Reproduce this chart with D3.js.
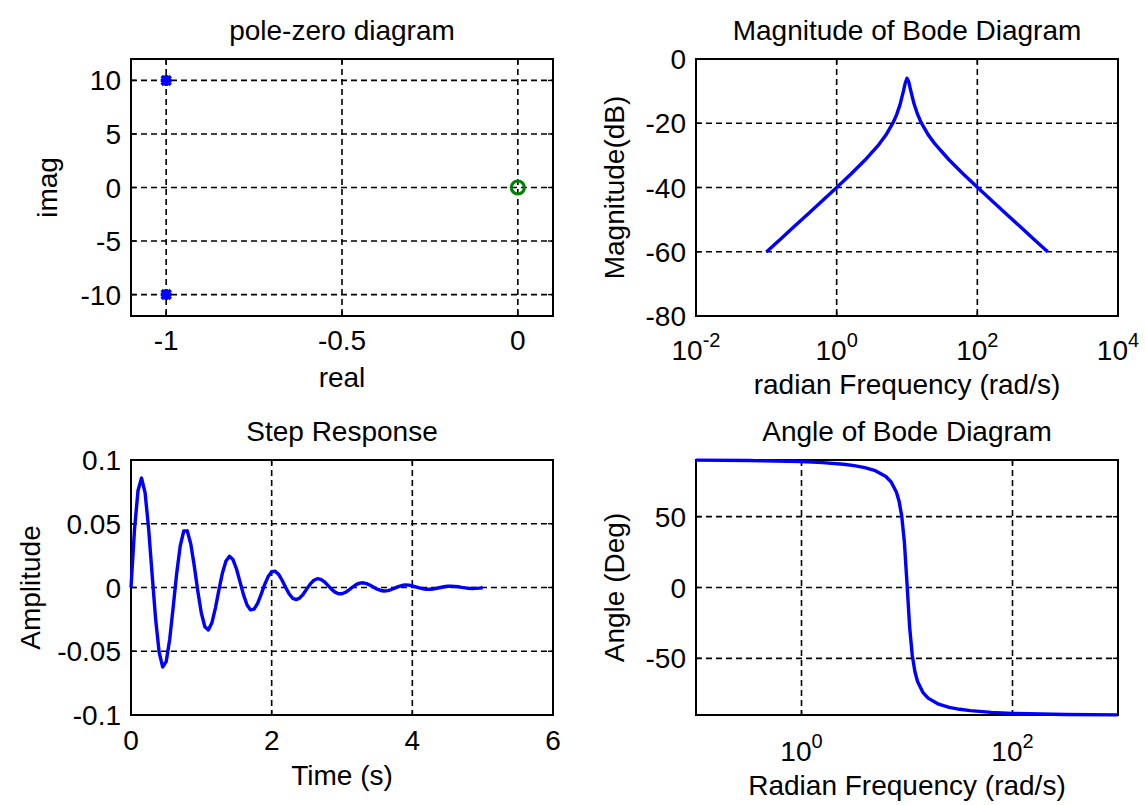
<!DOCTYPE html>
<html>
<head>
<meta charset="utf-8">
<script src="https://cdn.jsdelivr.net/npm/d3@7"></script>
<style>
  html, body { margin: 0; padding: 0; background: #ffffff; }
  svg { display: block; }
</style>
</head>
<body>
<svg id="chart" width="1145" height="805"></svg>
<script>
// ---------------- data ----------------
// pole-zero diagram
const poleReal = [-1, -1];
const poleImag = [10, -10];
const zeroReal = [0];
const zeroImag = [0];
const pzXTicks = [-1, -0.5, 0];
const pzYTicks = [-10, -5, 0, 5, 10];

// magnitude of Bode diagram
const magFreq = [0.1, 0.1585, 0.2512, 0.3981, 0.631, 1, 1.585, 2.512, 3.981, 5.012,
  6.31, 7.079, 7.943, 8.913, 9.441, 10, 10.59, 11.22, 12.59, 14.13,
  15.85, 19.95, 25.12, 39.81, 63.1, 100, 158.5, 251.2, 398.1, 631, 1000];
const magDb = [-60.09, -56.08, -52.08, -48.07, -44.05, -40.00, -35.87, -31.54, -26.64, -23.68,
  -19.91, -17.46, -14.28, -9.94, -7.47, -6.03, -7.09, -9.50, -13.95, -17.21,
  -19.72, -23.54, -26.52, -31.44, -35.78, -39.91, -43.97, -47.99, -51.99, -56.00, -60.00];
const magXTicks = [0.01, 1, 100, 10000];
const magXTickExp = ["-2", "0", "2", "4"];
const magYTicks = [0, -20, -40, -60, -80];

// step response
const stepTime = [0, 0.05, 0.1, 0.15, 0.2, 0.25, 0.3, 0.35, 0.4, 0.45, 0.5, 0.55, 0.6, 0.65, 0.7, 0.75, 0.8, 0.85, 0.9, 0.95,
  1, 1.05, 1.1, 1.15, 1.2, 1.25, 1.3, 1.35, 1.4, 1.45, 1.5, 1.55, 1.6, 1.65, 1.7, 1.75, 1.8, 1.85, 1.9, 1.95,
  2, 2.05, 2.1, 2.15, 2.2, 2.25, 2.3, 2.35, 2.4, 2.45, 2.5, 2.55, 2.6, 2.65, 2.7, 2.75, 2.8, 2.85, 2.9, 2.95,
  3, 3.05, 3.1, 3.15, 3.2, 3.25, 3.3, 3.35, 3.4, 3.45, 3.5, 3.55, 3.6, 3.65, 3.7, 3.75, 3.8, 3.85, 3.9, 3.95,
  4, 4.05, 4.1, 4.15, 4.2, 4.25, 4.3, 4.35, 4.4, 4.45, 4.5, 4.55, 4.6, 4.65, 4.7, 4.75, 4.8, 4.85, 4.9, 4.95, 5];
const stepAmp = [0, 0.04560, 0.07614, 0.08586, 0.07445, 0.04661, 0.01045, -0.02472, -0.05073, -0.06233,
  -0.05816, -0.04071, -0.01533, 0.01123, 0.03263, 0.04431, 0.04445, 0.03413, 0.01676, -0.00291,
  -0.02001, -0.03078, -0.03329, -0.02773, -0.01616, -0.00190, 0.01145, 0.02084, 0.02443, 0.02193,
  0.01451, 0.00438, -0.00581, -0.01369, -0.01756, -0.01697, -0.01241, -0.00532, 0.00224, 0.00858,
  0.01236, 0.01283, 0.01025, 0.00549, -0.00010, -0.00513, -0.00848, -0.00952, -0.00822, -0.00510,
  -0.00109, 0.00280, 0.00566, 0.00692, 0.00643, 0.00447, 0.00165, -0.00129, -0.00365, -0.00493,
  -0.00492, -0.00376, -0.00182, 0.00036, 0.00225, 0.00343, 0.00369, 0.00306, 0.00177, 0.00018,
  -0.00129, -0.00232, -0.00271, -0.00242, -0.00159, -0.00047, 0.00066, 0.00153, 0.00195, 0.00187,
  0.00136, 0.00058, -0.00026, -0.00097, -0.00137, -0.00142, -0.00113, -0.00060, 0.00002, 0.00058,
  0.00095, 0.00106, 0.00091, 0.00056, 0.00011, -0.00032, -0.00063, -0.00077, -0.00071, -0.00049, -0.00018];
const stepXTicks = [0, 2, 4, 6];
const stepYTicks = [-0.1, -0.05, 0, 0.05, 0.1];

// angle of Bode diagram
const phaseFreq = [0.1, 0.3162, 1, 1.585, 2.512, 3.162, 3.981, 5.012, 6.31, 7.079,
  7.943, 8.414, 8.913, 9.441, 10, 10.59, 11.22, 11.89, 12.59, 14.13,
  15.85, 19.95, 25.12, 31.62, 39.81, 63.1, 100, 316.2, 1000];
const phaseDeg = [89.89, 89.64, 88.85, 88.16, 86.96, 86.02, 84.66, 82.47, 78.35, 74.45,
  67.27, 60.88, 50.42, 32.17, 2.86, -27.87, -47.97, -59.44, -66.35, -74.00,
  -78.08, -82.35, -84.59, -85.98, -86.93, -88.14, -88.84, -89.64, -89.89];
const phaseXTicks = [1, 100];
const phaseXTickExp = ["0", "2"];
const phaseYTicks = [-50, 0, 50];

// ---------------- drawing ----------------
const FONT = "'Liberation Sans', Arial, Helvetica, sans-serif";
const FS = 28;
const LINE_W = 3.4;
const svg = d3.select("#chart");

function panel(o) {
  const g = svg.append("g");
  const x = o.x, y = o.y;
  const [X0, X1] = x.range();
  const [Y1, Y0] = y.range();
  // grid
  g.selectAll(".gx").data(o.xTicks).join("line")
    .attr("x1", d => x(d)).attr("x2", d => x(d)).attr("y1", Y0).attr("y2", Y1)
    .attr("stroke", "#000").attr("stroke-width", 1.6).attr("stroke-dasharray", "6,4");
  g.selectAll(".gy").data(o.yTicks).join("line")
    .attr("y1", d => y(d)).attr("y2", d => y(d)).attr("x1", X0).attr("x2", X1)
    .attr("stroke", "#000").attr("stroke-width", 1.6).attr("stroke-dasharray", "6,4");
  // box
  g.append("rect").attr("x", X0).attr("y", Y0).attr("width", X1 - X0).attr("height", Y1 - Y0)
    .attr("fill", "none").attr("stroke", "#000").attr("stroke-width", 2);
  // ticks (inward, all four sides)
  const TL = 5;
  o.xTicks.forEach(d => {
    g.append("line").attr("x1", x(d)).attr("x2", x(d)).attr("y1", Y1).attr("y2", Y1 - TL).attr("stroke", "#000").attr("stroke-width", 1.4);
    g.append("line").attr("x1", x(d)).attr("x2", x(d)).attr("y1", Y0).attr("y2", Y0 + TL).attr("stroke", "#000").attr("stroke-width", 1.4);
  });
  o.yTicks.forEach(d => {
    g.append("line").attr("y1", y(d)).attr("y2", y(d)).attr("x1", X0).attr("x2", X0 + TL).attr("stroke", "#000").attr("stroke-width", 1.4);
    g.append("line").attr("y1", y(d)).attr("y2", y(d)).attr("x1", X1).attr("x2", X1 - TL).attr("stroke", "#000").attr("stroke-width", 1.4);
  });
  // y tick labels
  g.selectAll(".yl").data(o.yTicks).join("text")
    .attr("x", X0 - 10).attr("y", d => y(d)).attr("dy", "0.36em")
    .attr("text-anchor", "end").attr("font-family", FONT).attr("font-size", FS)
    .text(d => String(d));
  // x tick labels
  if (o.xExp) {
    o.xTicks.forEach((d, i) => {
      const t = g.append("text").attr("x", x(d)).attr("y", Y1 + o.xTickDy)
        .attr("text-anchor", "middle").attr("font-family", FONT).attr("font-size", FS);
      t.append("tspan").text("10");
      t.append("tspan").attr("dy", -13).attr("font-size", 20).text(o.xExp[i]);
    });
  } else {
    g.selectAll(".xl").data(o.xTicks).join("text")
      .attr("x", d => x(d)).attr("y", Y1 + o.xTickDy)
      .attr("text-anchor", "middle").attr("font-family", FONT).attr("font-size", FS)
      .text(d => String(d));
  }
  // title
  g.append("text").attr("x", (X0 + X1) / 2).attr("y", Y0 - 19)
    .attr("text-anchor", "middle").attr("font-family", FONT).attr("font-size", FS).text(o.title);
  // x label
  g.append("text").attr("x", (X0 + X1) / 2).attr("y", Y1 + o.xLabDy)
    .attr("text-anchor", "middle").attr("font-family", FONT).attr("font-size", FS).text(o.xlabel);
  // y label
  g.append("text")
    .attr("transform", `translate(${o.yLabX},${(Y0 + Y1) / 2}) rotate(-90)`)
    .attr("text-anchor", "middle").attr("font-family", FONT).attr("font-size", FS).text(o.ylabel);
  return g;
}

const LX = [131, 553], RX = [696, 1118];
const TY = [316, 59], BY = [715, 460];

// 1) pole-zero
{
  const x = d3.scaleLinear().domain([-1.1, 0.1]).range(LX);
  const y = d3.scaleLinear().domain([-12, 12]).range(TY);
  const g = panel({ x, y, xTicks: pzXTicks, yTicks: pzYTicks, title: "pole-zero diagram",
    xlabel: "real", ylabel: "imag", xTickDy: 34, xLabDy: 71, yLabX: 57 });
  const poles = poleReal.map((r, i) => [r, poleImag[i]]);
  poles.forEach(([r, im]) => {
    const cx = x(r), cy = y(im), s = 4.5;
    g.append("path")
      .attr("d", `M${cx - s},${cy - s}L${cx + s},${cy + s}M${cx - s},${cy + s}L${cx + s},${cy - s}M${cx - s - 1},${cy}L${cx + s + 1},${cy}M${cx},${cy - s - 1}L${cx},${cy + s + 1}`)
      .attr("stroke", "#0000ff").attr("stroke-width", 3.5).attr("fill", "none");
  });
  zeroReal.forEach((r, i) => {
    g.append("circle").attr("cx", x(r)).attr("cy", y(zeroImag[i])).attr("r", 6.5)
      .attr("fill", "none").attr("stroke", "#008000").attr("stroke-width", 3.2);
  });
}

// 2) magnitude
{
  const x = d3.scaleLog().domain([0.01, 10000]).range(RX);
  const y = d3.scaleLinear().domain([-80, 0]).range(TY);
  const g = panel({ x, y, xTicks: magXTicks, yTicks: magYTicks, xExp: magXTickExp,
    title: "Magnitude of Bode Diagram", xlabel: "radian Frequency (rad/s)", ylabel: "Magnitude(dB)",
    xTickDy: 44, xLabDy: 78, yLabX: 624 });
  g.append("path").datum(magFreq.map((f, i) => [f, magDb[i]]))
    .attr("d", d3.line().x(d => x(d[0])).y(d => y(d[1])))
    .attr("fill", "none").attr("stroke", "#0000ff").attr("stroke-width", LINE_W).attr("stroke-linejoin", "round");
}

// 3) step response
{
  const x = d3.scaleLinear().domain([0, 6]).range(LX);
  const y = d3.scaleLinear().domain([-0.1, 0.1]).range(BY);
  const g = panel({ x, y, xTicks: stepXTicks, yTicks: stepYTicks, title: "Step Response",
    xlabel: "Time (s)", ylabel: "Amplitude", xTickDy: 35, xLabDy: 70, yLabX: 40 });
  g.append("path").datum(stepTime.map((t, i) => [t, stepAmp[i]]))
    .attr("d", d3.line().x(d => x(d[0])).y(d => y(d[1])))
    .attr("fill", "none").attr("stroke", "#0000ff").attr("stroke-width", LINE_W).attr("stroke-linejoin", "round");
}

// 4) angle
{
  const x = d3.scaleLog().domain([0.1, 1000]).range(RX);
  const y = d3.scaleLinear().domain([-90, 90]).range(BY);
  const g = panel({ x, y, xTicks: phaseXTicks, yTicks: phaseYTicks, xExp: phaseXTickExp,
    title: "Angle of Bode Diagram", xlabel: "Radian Frequency (rad/s)", ylabel: "Angle (Deg)",
    xTickDy: 46, xLabDy: 80, yLabX: 624 });
  g.append("path").datum(phaseFreq.map((f, i) => [f, phaseDeg[i]]))
    .attr("d", d3.line().x(d => x(d[0])).y(d => y(d[1])))
    .attr("fill", "none").attr("stroke", "#0000ff").attr("stroke-width", LINE_W).attr("stroke-linejoin", "round");
}
</script>
</body>
</html>
